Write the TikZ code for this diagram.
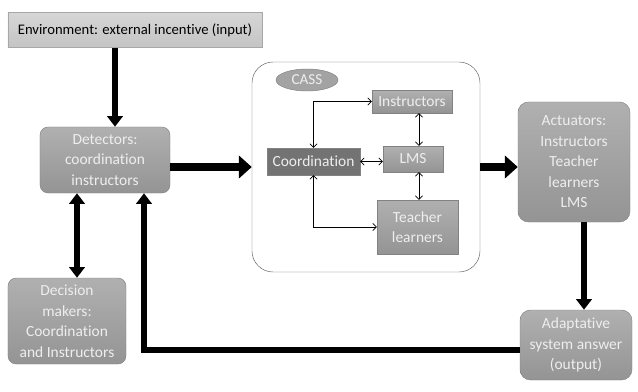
\documentclass[tikz,border=0pt]{standalone}
\usepackage{fontspec}
\setmainfont{Carlito}[Ligatures={NoCommon}]
\usepackage{tikz}
\usetikzlibrary{shapes,arrows.meta,positioning,calc}
\usepackage{xcolor}
\definecolor{boxgrey}{RGB}{163,163,163}
\definecolor{boxgreytop}{RGB}{176,176,176}
\definecolor{boxgreybot}{RGB}{148,148,148}
\definecolor{darkbox}{RGB}{128,128,128}
\definecolor{envtop}{RGB}{214,214,214}
\definecolor{envbot}{RGB}{196,196,196}
\definecolor{txtwhite}{RGB}{238,238,238}
\definecolor{framegrey}{RGB}{100,100,100}

\begin{document}
\begin{tikzpicture}[x=0.03cm, y=-0.03cm,
    outer/.style={rectangle, rounded corners=7pt, draw=boxgrey!80!black, thin,
                  top color=boxgreytop, bottom color=boxgreybot, text=txtwhite,
                  align=center, inner sep=0pt, font=\fontsize{13.2}{17.5}\selectfont},
    inner/.style={rectangle, draw=boxgrey!80!black, thin,
                  top color=boxgreytop, bottom color=boxgreybot, text=txtwhite,
                  align=center, inner sep=0pt, font=\fontsize{13.2}{17.5}\selectfont},
    fat/.style={line width=4.5pt, -{Triangle[length=9pt, width=13pt]}},
    fatter/.style={line width=7.5pt, -{Triangle[length=11pt, width=19pt]}},
    thinlink/.style={semithick, {Straight Barb[length=3pt]}-{Straight Barb[length=3pt]}}]
\useasboundingbox (0,0) rectangle (638,392);
% input box at the top
\node[rectangle, draw=envbot!85!black, thin, top color=envtop, bottom color=envbot,
      minimum width=7.62cm, minimum height=1.05cm, inner sep=0pt,
      font=\fontsize{12.5}{16}\selectfont] (env) at (135,30) {Environment: external incentive (input)};
% left column
\node[outer, minimum width=3.9cm, minimum height=1.98cm] (det) at (105,160) {Detectors:\\coordination\\instructors};
\node[outer, minimum width=3.54cm, minimum height=2.58cm] (dec) at (67,321) {Decision\\makers:\\Coordination\\and Instructors};
% CASS container
\node[rectangle, rounded corners=18pt, draw=framegrey, thin, fill=white,
      minimum width=6.84cm, minimum height=6.3cm] (cass) at (366,167) {};
\node[ellipse, fill=boxgrey, draw=boxgrey!80!black, thin, text=txtwhite,
      minimum width=1.86cm, minimum height=0.66cm, inner sep=0pt,
      font=\fontsize{13}{15}\selectfont] (cassl) at (307,80) {CASS};
\node[inner, minimum width=2.4cm, minimum height=0.69cm] (ins) at (412,101.5) {Instructors};
\node[inner, top color=darkbox!110, bottom color=darkbox!90!black,
      minimum width=2.79cm, minimum height=0.81cm] (coo) at (313.5,161.5) {Coordination};
\node[inner, minimum width=1.8cm, minimum height=0.78cm] (lms) at (413,159) {LMS};
\node[inner, minimum width=2.43cm, minimum height=1.62cm] (tea) at (417.5,227) {Teacher\\learners};
% right column
\node[outer, rounded corners=9pt, minimum width=3.36cm, minimum height=3.6cm] (act) at (574,162) {Actuators:\\Instructors\\Teacher\\learners\\LMS};
\node[outer, rounded corners=9pt, minimum width=3.36cm, minimum height=2.1cm] (ada) at (576,345) {Adaptative\\system answer\\(output)};
% thick flow arrows
\draw[fat] ([xshift=0.3cm]det.north |- env.south) -- ([xshift=0.3cm]det.north);
\draw[fatter] (det.east |- cass.west) -- (cass.west);
\draw[fatter] (cass.east) -- (cass.east -| act.west);
\draw[fat] ([xshift=0.3cm]act.south) -- ([xshift=0.3cm]act.south |- ada.north);
\draw[line width=4.5pt, {Triangle[length=9pt, width=13pt]}-{Triangle[length=9pt, width=13pt]}]
    ([xshift=-0.84cm]det.south) -- ([xshift=-0.84cm]det.south |- dec.north);
% feedback loop back to the detectors
\draw[fat] ([yshift=-0.15cm]ada.west) -| ([xshift=1.17cm]det.south);
% links inside CASS
\draw[thinlink] (ins.west) -| (coo.north);
\draw[thinlink] (tea.west) -| (coo.south);
\draw[thinlink] (coo.east) -- (coo.east -| lms.west);
\draw[thinlink] ([xshift=0.18cm]lms.north) -- ([xshift=0.18cm]lms.north |- ins.south);
\draw[thinlink] ([xshift=0.18cm]lms.south) -- ([xshift=0.18cm]lms.south |- tea.north);
\end{tikzpicture}
\end{document}
